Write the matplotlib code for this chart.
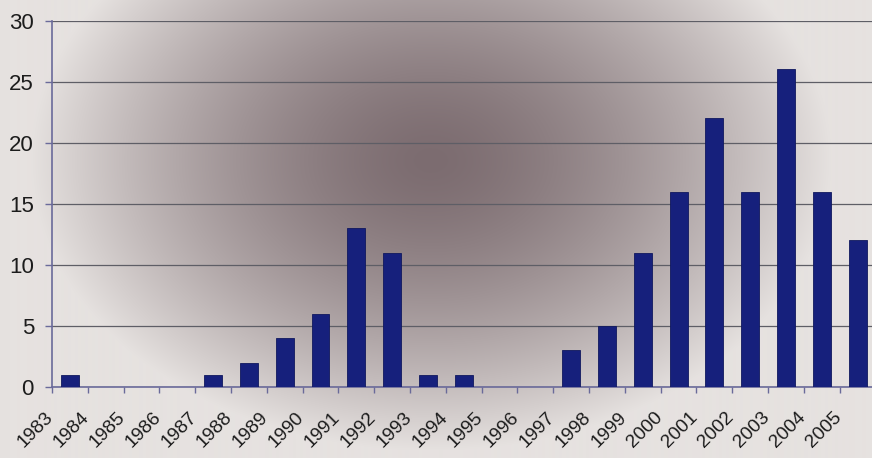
import numpy as np
import matplotlib
matplotlib.use("Agg")
import matplotlib.pyplot as plt
from matplotlib.transforms import ScaledTranslation

years = ["1983", "1984", "1985", "1986", "1987", "1988", "1989", "1990",
         "1991", "1992", "1993", "1994", "1995", "1996", "1997", "1998",
         "1999", "2000", "2001", "2002", "2003", "2004", "2005"]
counts = [1, 0, 0, 0, 1, 2, 4, 6, 13, 11, 1, 1, 0, 0, 3, 5, 11, 16, 22, 16,
          26, 16, 12]
yticks = [0, 5, 10, 15, 20, 25, 30]

W, H, DPI = 872, 458, 100
plt.rcParams["font.family"] = ["Liberation Sans", "DejaVu Sans"]

fig = plt.figure(figsize=(W / DPI, H / DPI), dpi=DPI)

# shaded backdrop: mauve-grey centre fading to pale grey at the borders
bg = fig.add_axes([0, 0, 1, 1], zorder=0)
yy, xx = np.mgrid[0:H, 0:W]
r = np.sqrt(((xx - 430) / 400.0) ** 2 + ((yy - 160) / 290.0) ** 2)
t = np.clip(r, 0, 1) ** 1.5
centre = np.array([124, 108, 112]) / 255.0
edge = np.array([230, 226, 224]) / 255.0
img = centre[None, None, :] * (1 - t[..., None]) + edge[None, None, :] * t[..., None]
bg.imshow(img, aspect="auto", extent=[0, W, H, 0])
bg.set_axis_off()

ax = fig.add_axes([52 / W, 71 / H, 823.5 / W, 366.5 / H], zorder=1)
ax.patch.set_alpha(0)

x = np.arange(len(years))
ax.bar(x, counts, width=0.5, color="#16207c", edgecolor="#10185e",
       linewidth=0.6, zorder=3)

ax.set_xlim(-0.5, len(years) - 0.5)
ax.set_ylim(0, 30)

axis_col = "#6a6a9a"
ax.set_yticks(yticks)
ax.set_yticklabels([str(v) for v in yticks], fontsize=16, color="#1c1c1c")
ax.yaxis.grid(True, color="#5e5e66", linewidth=0.9, zorder=1)
ax.set_axisbelow(True)

# category boundaries carry the tick marks; labels sit on the categories
ax.set_xticks(np.arange(len(years) + 1) - 0.5)
ax.set_xticklabels([])
ax.set_xticks(x, minor=True)
ax.set_xticklabels(years, minor=True, rotation=45, ha="right", va="center",
                   rotation_mode="anchor", fontsize=13.8, color="#1c1c1c")
ax.tick_params(axis="x", which="major", length=4, color=axis_col, width=1)
ax.tick_params(axis="x", which="minor", length=0, pad=0)
ax.tick_params(axis="y", length=5, color=axis_col, width=1, pad=8)

offset = ScaledTranslation(-19 / DPI, -28 / DPI, fig.dpi_scale_trans)
for lbl in ax.get_xticklabels(minor=True):
    lbl.set_transform(lbl.get_transform() + offset)

for side in ("top", "right"):
    ax.spines[side].set_visible(False)
for side in ("left", "bottom"):
    ax.spines[side].set_color(axis_col)
    ax.spines[side].set_linewidth(1.2)

fig.savefig("out.png", dpi=DPI)
